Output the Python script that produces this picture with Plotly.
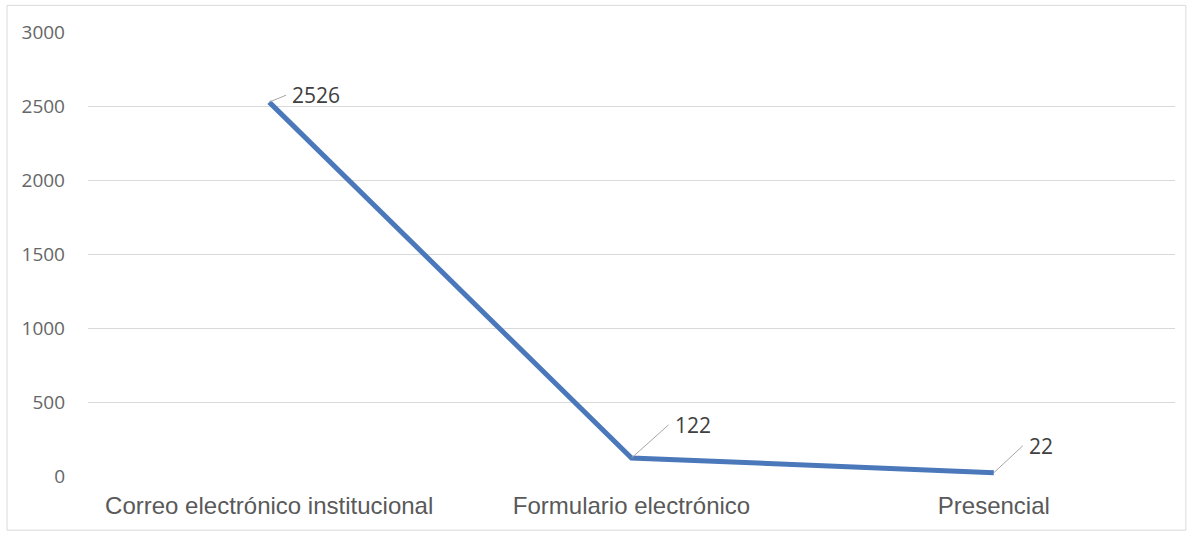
import plotly.graph_objects as go

categories = ["Correo electrónico institucional", "Formulario electrónico", "Presencial"]
values = [2526, 122, 22]
y_ticks = [0, 500, 1000, 1500, 2000, 2500, 3000]

# label offsets (pixels) for leader lines
label_dx = [17, 37, 29]
label_dy = [-7, -33, -27]

fig = go.Figure()
fig.add_trace(go.Scatter(
    x=categories, y=values, mode="lines",
    line=dict(color="#4a78bb", width=5),
    hoverinfo="skip", showlegend=False,
))

for c, v, dx, dy in zip(categories, values, label_dx, label_dy):
    fig.add_annotation(
        x=c, y=v, text=str(v), showarrow=True, arrowhead=0,
        arrowwidth=1, arrowcolor="#a6a6a6", ax=dx, ay=dy,
        xanchor="left", yanchor="middle", borderpad=5,
        font=dict(family="Open Sans, sans-serif", size=21, color="#404040"),
    )

fig.update_layout(
    width=1194, height=537,
    margin=dict(l=88, r=19, t=32, b=61),
    paper_bgcolor="white", plot_bgcolor="white",
    xaxis=dict(
        type="category", showgrid=False, zeroline=False, showline=False,
        ticks="", tickfont=dict(family="Liberation Sans, Arial, sans-serif", size=24, color="#595959"),
        range=[-0.5, 2.5], ticklabelstandoff=13,
    ),
    yaxis=dict(
        range=[0, 3000], tickvals=y_ticks, showgrid=True, gridcolor="#d9d9d9",
        gridwidth=1, zeroline=False, showline=False, ticks="",
        tickfont=dict(family="Open Sans, sans-serif", size=19, color="#666666"),
        ticklabelstandoff=22,
    ),
    shapes=[dict(type="rect", xref="paper", yref="paper",
                 x0=-0.0745, x1=1.01, y0=-0.122, y1=1.06,
                 line=dict(color="#d9d9d9", width=1))],
)

fig.write_html("out.html")
